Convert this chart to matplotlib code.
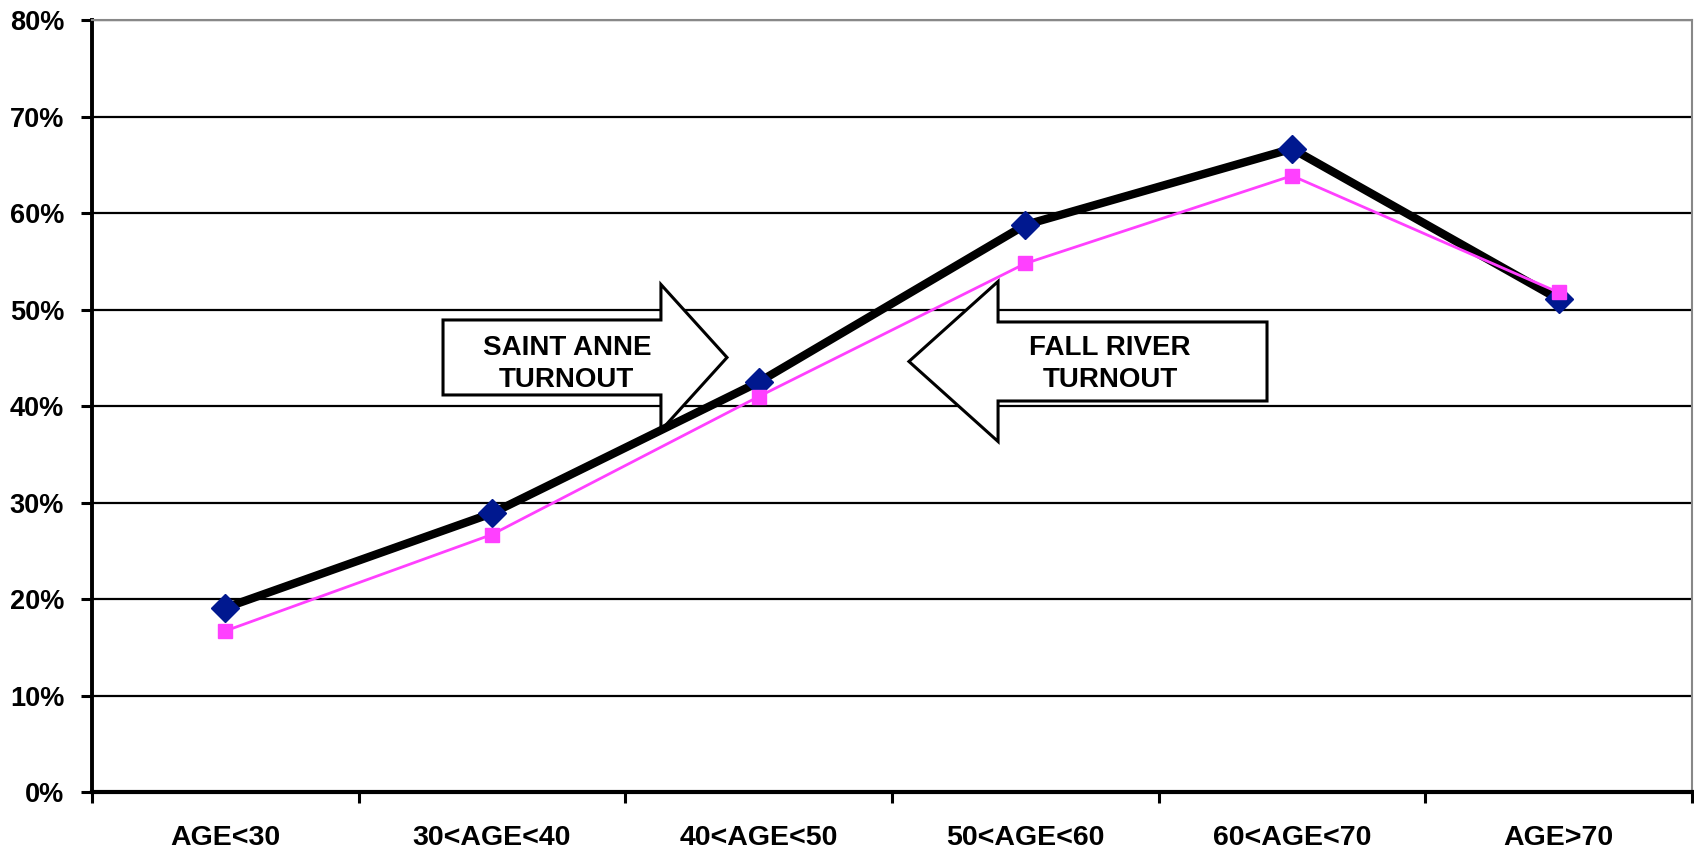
import matplotlib.pyplot as plt
import numpy as np
from matplotlib.patches import Polygon
from matplotlib.ticker import FixedLocator, FuncFormatter

plt.rcParams['font.family'] = ['Liberation Sans', 'DejaVu Sans']
plt.rcParams['font.weight'] = 'bold'

age_groups = ['AGE<30', '30<AGE<40', '40<AGE<50', '50<AGE<60', '60<AGE<70', 'AGE>70']
saint_anne = [19.1, 28.9, 42.5, 58.8, 66.7, 51.1]
fall_river = [16.7, 26.7, 41.0, 54.8, 63.9, 51.8]
y_ticks = [0, 10, 20, 30, 40, 50, 60, 70, 80]


def block_arrow(ax, x_tail, x_neck, x_tip, y_mid, body_h, head_h):
    # block arrow in axes fraction, pointing from tail to tip
    b = body_h / 2
    h = head_h / 2
    pts = [(x_tail, y_mid - b), (x_neck, y_mid - b), (x_neck, y_mid - h),
           (x_tip, y_mid), (x_neck, y_mid + h), (x_neck, y_mid + b),
           (x_tail, y_mid + b)]
    ax.add_patch(Polygon(pts, closed=True, transform=ax.transAxes,
                         facecolor='white', edgecolor='black', lw=2.2, zorder=3))


fig = plt.figure(figsize=(16.94, 8.52), dpi=100)
ax = fig.add_axes([0.0543, 0.0704, 0.9445, 0.9056])

x = np.arange(len(age_groups))
ax.plot(x, saint_anne, color='black', lw=6, marker='D', markersize=14,
        markerfacecolor='#00188F', markeredgecolor='#00188F', zorder=5)
ax.plot(x, fall_river, color='#FF40FF', lw=2, marker='s', markersize=10.5,
        markerfacecolor='#FF40FF', markeredgecolor='#FF40FF', zorder=6)

ax.set_xlim(-0.5, 5.5)
ax.set_ylim(0, 80)

ax.yaxis.set_major_locator(FixedLocator(y_ticks))
ax.yaxis.set_major_formatter(FuncFormatter(lambda v, p: f'{int(v)}%'))
ax.yaxis.grid(True, color='black', lw=1.6, zorder=1)
ax.set_axisbelow(True)

ax.set_xticks(x)
ax.set_xticklabels(age_groups)
ax.set_xticks(np.arange(-0.5, 6.0, 1.0), minor=True)
ax.tick_params(axis='x', which='major', length=0, pad=24, labelsize=20.5)
ax.tick_params(axis='x', which='minor', length=8, width=2.2, direction='out')
ax.tick_params(axis='y', length=8, width=2.2, direction='out', pad=12, labelsize=19.5)

for lab in ax.get_xticklabels() + ax.get_yticklabels():
    lab.set_fontweight('bold')

ax.spines['left'].set_linewidth(2.8)
ax.spines['bottom'].set_linewidth(3)
ax.spines['top'].set_color('#888888')
ax.spines['top'].set_linewidth(1.5)
ax.spines['right'].set_color('#888888')
ax.spines['right'].set_linewidth(1.5)

block_arrow(ax, 0.2194, 0.3556, 0.3969, 0.5632, 0.0972, 0.1892)
ax.text(0.2968, 0.5545, 'SAINT ANNE\nTURNOUT', transform=ax.transAxes,
        ha='center', va='center', fontsize=20, fontweight='bold',
        linespacing=1.3, zorder=4)

block_arrow(ax, 0.7344, 0.5663, 0.5106, 0.558, 0.1024, 0.2074)
ax.text(0.6363, 0.5545, 'FALL RIVER\nTURNOUT', transform=ax.transAxes,
        ha='center', va='center', fontsize=20, fontweight='bold',
        linespacing=1.3, zorder=4)

fig.savefig('out.png', dpi=100)
